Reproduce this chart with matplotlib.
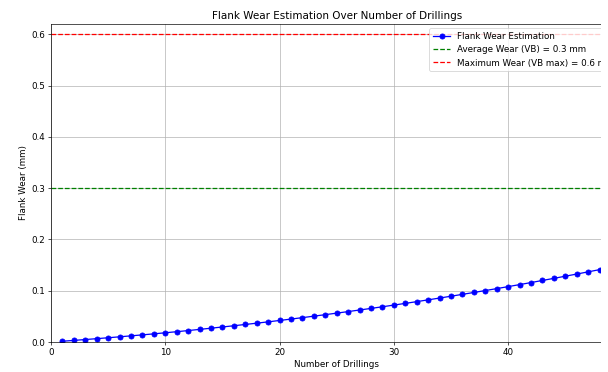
import numpy as np
import matplotlib
matplotlib.use("Agg")
import matplotlib.pyplot as plt
from matplotlib.patches import Rectangle

# nombre de perçages et usure estimée (mm)
drillings = list(range(1, 51))
flank_wear = [0.0015, 0.0031, 0.0048, 0.0065, 0.0083, 0.0101, 0.0120, 0.0139, 0.0159, 0.0180,
              0.0201, 0.0223, 0.0246, 0.0269, 0.0293, 0.0317, 0.0342, 0.0367, 0.0393, 0.0420,
              0.0447, 0.0475, 0.0504, 0.0533, 0.0563, 0.0593, 0.0624, 0.0655, 0.0687, 0.0720,
              0.0753, 0.0787, 0.0822, 0.0857, 0.0893, 0.0929, 0.0966, 0.1003, 0.1041, 0.1080,
              0.1119, 0.1159, 0.1200, 0.1241, 0.1283, 0.1325, 0.1368, 0.1411, 0.1455, 0.1500]

vb_avg = 0.3
vb_max = 0.6

plt.rcParams['font.size'] = 10.3

fig = plt.figure(figsize=(10, 372 / 60.8), dpi=60.8)
ax = fig.add_axes([51 / 608, 30 / 372, 571.5 / 608, 318 / 372])

ax.plot(drillings, flank_wear, marker='o', color='b', label='Flank Wear Estimation')
ax.axhline(vb_avg, color='g', linestyle='--', label='Average Wear (VB) = 0.3 mm')
ax.axhline(vb_max, color='r', linestyle='--', label='Maximum Wear (VB max) = 0.6 mm')

ax.set_xlim(0, 50)
ax.set_ylim(0, 0.62)
ax.set_title('Flank Wear Estimation Over Number of Drillings')
ax.set_xlabel('Number of Drillings')
ax.set_ylabel('Flank Wear (mm)')
ax.legend(loc='upper right')
ax.grid(True)

# l'image d'origine est rognée à droite : bande blanche
fig.add_artist(Rectangle((601 / 608, 0), 7 / 608, 1, transform=fig.transFigure,
                         facecolor='white', edgecolor='none', zorder=100))

fig.savefig('out.png', dpi=60.8)
